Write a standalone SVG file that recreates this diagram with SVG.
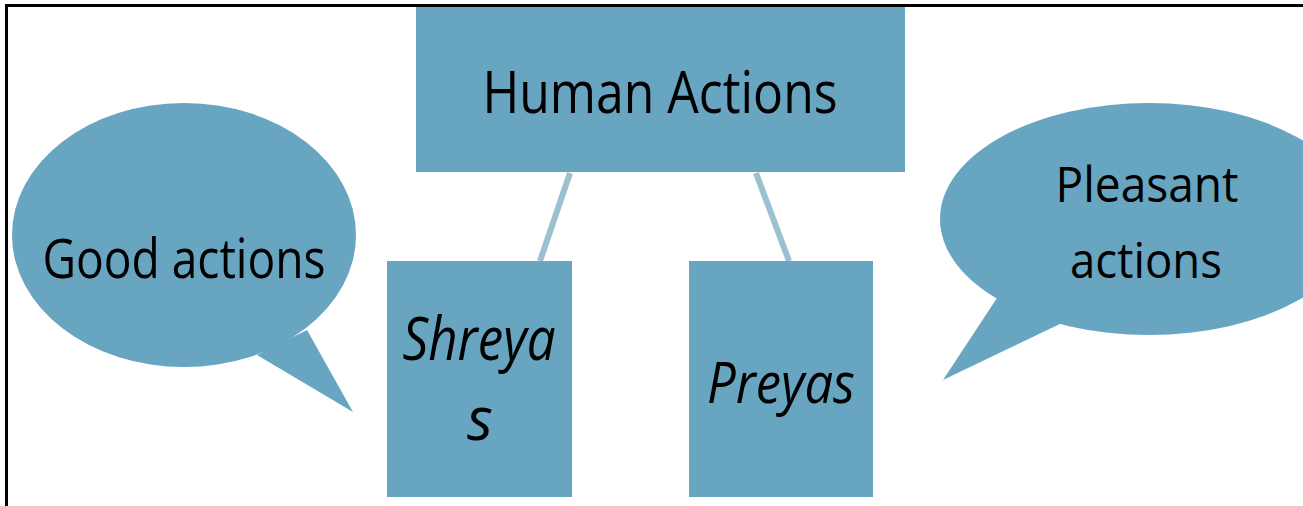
<svg xmlns="http://www.w3.org/2000/svg" width="1303" height="506" viewBox="0 0 1303 506">
<style>
.shape{fill:#68a5c0}
.lbl{font-family:"Open Sans","Liberation Sans",sans-serif;fill:#000;text-anchor:middle}
.it{font-style:italic}
.conn{stroke:#9bc0d0;stroke-width:6;fill:none}
</style>
<rect x="0" y="0" width="1303" height="506" fill="#fff"/>
<rect x="6.5" y="5.5" width="1400" height="600" fill="none" stroke="#000" stroke-width="3"/>
<g id="connectors">
<line class="conn" x1="570" y1="173" x2="540" y2="261"/>
<line class="conn" x1="756" y1="173" x2="789" y2="261"/>
</g>
<g id="human-actions">
<rect class="shape" x="416" y="7" width="489" height="165"/>
<text class="lbl" x="660" y="113" font-size="59" textLength="355" lengthAdjust="spacingAndGlyphs">Human Actions</text>
</g>
<g id="shreyas">
<rect class="shape" x="387" y="261" width="185" height="236"/>
<text class="lbl it" x="479" y="360" font-size="60" textLength="153" lengthAdjust="spacingAndGlyphs">Shreya</text>
<text class="lbl it" x="480" y="440" font-size="60">s</text>
</g>
<g id="preyas">
<rect class="shape" x="689" y="261" width="184" height="236"/>
<text class="lbl it" x="781" y="403" font-size="56" textLength="148" lengthAdjust="spacingAndGlyphs">Preyas</text>
</g>
<g id="good-actions">
<path class="shape" d="M307,330 L353,412 L257,355 Z"/>
<ellipse class="shape" cx="184" cy="235" rx="172" ry="132"/>
<text class="lbl" x="184" y="278" font-size="55" textLength="283" lengthAdjust="spacingAndGlyphs">Good actions</text>
</g>
<g id="pleasant-actions">
<path class="shape" d="M997,298 L943,380 L1062,323 Z"/>
<ellipse class="shape" cx="1149" cy="219" rx="209" ry="116"/>
<text class="lbl" x="1147" y="202" font-size="49" textLength="183" lengthAdjust="spacingAndGlyphs">Pleasant</text>
<text class="lbl" x="1146" y="278" font-size="49" textLength="152" lengthAdjust="spacingAndGlyphs">actions</text>
</g>
</svg>
